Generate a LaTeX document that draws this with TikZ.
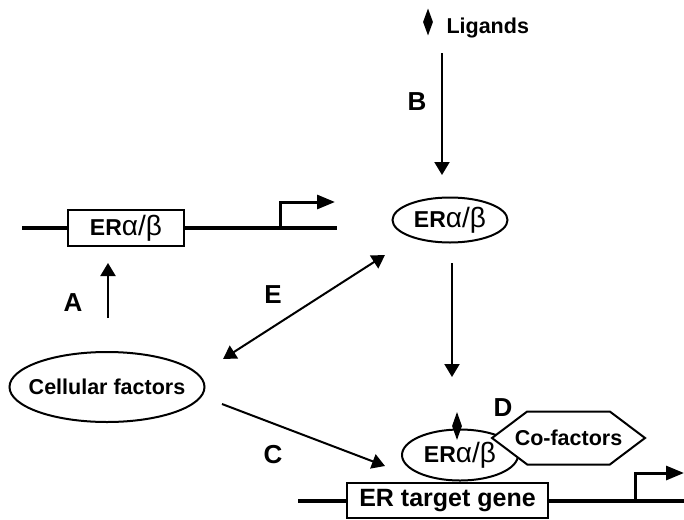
\documentclass[tikz,border=0pt]{standalone}
\usepackage{fontspec}
\setmainfont{Liberation Sans}
\usetikzlibrary{arrows.meta,shapes.geometric,shapes.symbols}
\newcommand{\ERab}{{\fontsize{23}{26}\selectfont\bfseries ER}{\fontsize{28}{30}\selectfont\mdseries α/β}}
\begin{document}
\begin{tikzpicture}[x=1pt,y=-1pt,
  txt/.style={font=\fontsize{21.5}{24}\selectfont\bfseries},
  lbl/.style={font=\fontsize{26}{28}\selectfont\bfseries},
  ell/.style={draw, ellipse, line width=2pt, inner sep=0pt, fill=white, txt},
  genebox/.style={draw, rectangle, line width=2.6pt, fill=white, inner sep=0pt, txt},
  arr/.style={line width=2pt, -{Triangle[length=13pt,width=15pt]}},
  darr/.style={line width=2pt, {Triangle[length=13pt,width=15pt]}-{Triangle[length=13pt,width=15pt]}},
  gene/.style={line width=3.5pt},
  prom/.style={line width=3pt, -{Triangle[length=18pt,width=14pt]}},
  ligmark/.style={draw=none, fill=black, diamond, inner sep=0pt, minimum width=10pt, minimum height=27pt}]
\useasboundingbox (0,0) rectangle (684,519);

% ligands
\node[ligmark] (lig) at (428,22) {};
\node[txt, anchor=west] (ligt) at (443,28) {Ligands};

% top gene
\coordinate (g1a) at (22,228);
\coordinate (g1b) at (337,228);
\coordinate (p1) at (280,228);
\coordinate (p1e) at (335,202);
\draw[gene] (g1a) -- (g1b);
\draw[prom] (p1) |- (p1e);
\node[genebox, minimum width=116pt, minimum height=36pt] (box1) at (126,228) {\makebox[0pt]{\ERab}};

% bottom gene
\coordinate (g2a) at (298,501);
\coordinate (g2b) at (684,501);
\coordinate (p2) at (635,501);
\coordinate (p2e) at (684,473);
\draw[gene] (g2a) -- (g2b);
\draw[prom] (p2) |- (p2e);
\node[genebox, minimum width=201pt, minimum height=35pt, font=\fontsize{25}{28}\selectfont\bfseries] (box2) at (447.5,500.5) {ER target gene};

% ellipses
\node[ell, minimum width=115pt, minimum height=45pt] (er1) at (450,220) {\makebox[0pt]{\ERab}};
\node[ell, minimum width=195pt, minimum height=70pt] (cell) at (107,387) {\makebox[0pt]{Cellular factors}};
\node[ell, minimum width=116pt, minimum height=51pt] (er2) at (460,455) {\makebox[0pt]{\ERab}};
\node[signal, signal to=west and east, draw, line width=2pt, fill=white,
      minimum width=153pt, minimum height=53pt, signal pointer angle=74,
      inner sep=0pt, txt] (cof) at (568.5,438) {\makebox[0pt]{Co-factors}};
\node[ligmark, minimum height=28pt] (lig2) at (457,426) {};

% connectors
\coordinate (b0) at (442,53);
\coordinate (b1) at (442,175);
\draw[arr] (b0) -- (b1);
\coordinate (d0) at (452,263);
\coordinate (d1) at (452,377);
\draw[arr] (d0) -- (d1);
\coordinate (a0) at (108,318);
\coordinate (a1) at (108,263);
\draw[arr] (a0) -- (a1);
\coordinate (e0) at (223,359);
\coordinate (e1) at (385,255);
\draw[darr] (e0) -- (e1);
\coordinate (c0) at (222,404);
\coordinate (c1) at (385,466);
\draw[arr] (c0) -- (c1);

% letters
\node[lbl] (la) at (73,303) {A};
\node[lbl] (lb) at (417,102) {B};
\node[lbl] (lc) at (273,455) {C};
\node[lbl] (ld) at (503,408) {D};
\node[lbl] (le) at (273,295) {E};
\end{tikzpicture}
\end{document}
